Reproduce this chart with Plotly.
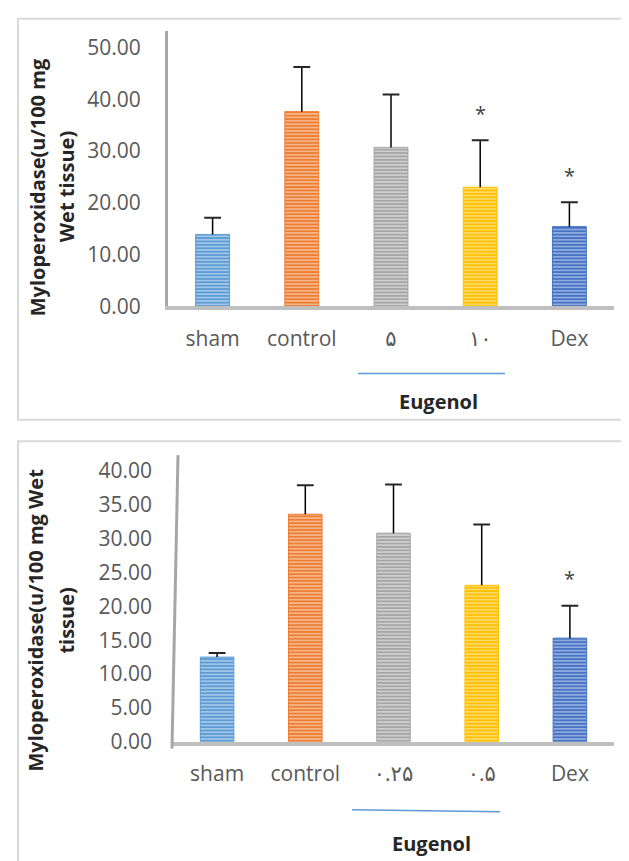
import plotly.graph_objects as go

# ---------------- data ----------------
top_categories = ["sham", "control", "۵", "۱۰", "Dex"]
top_means = [13.9, 37.6, 30.7, 23.0, 15.4]
top_sds = [3.2, 8.6, 10.2, 9.1, 4.7]
top_sig = ["", "", "", "*", "*"]

bottom_categories = ["sham", "control", "۰.۲۵", "۰.۵", "Dex"]
bottom_means = [12.5, 33.6, 30.8, 23.1, 15.3]
bottom_sds = [0.6, 4.3, 7.2, 9.0, 4.8]
bottom_sig = ["", "", "", "", "*"]

top_yticks = [0, 10, 20, 30, 40, 50]
bottom_yticks = [0, 5, 10, 15, 20, 25, 30, 35, 40]

bar_colors = ["#5B9BD5", "#ED7D31", "#A5A5A5", "#FFC000", "#4472C4"]
stripe_colors = ["#A9CBEA", "#F6BC94", "#D3D3D3", "#FFDB70", "#9AB2DF"]

y_title_top = ["Myloperoxidase(u/100 mg", "Wet tissue)"]
y_title_bottom = ["Myloperoxidase(u/100 mg Wet", "tissue)"]
group_label = "Eugenol"

# ---------------- layout helpers ----------------
W, H = 629, 861
def px(x):
    return x / W
def py(y):
    return 1 - y / H

TICK_FONT = dict(family="Open Sans, DejaVu Sans, sans-serif", size=21, color="#595959")
BOLD_FONT = "Open Sans, DejaVu Sans, sans-serif"

fig = go.Figure()

def add_chart(xa, ya, cats, means, sds, sig):
    for c, m, col, scol in zip(cats, means, bar_colors, stripe_colors):
        fig.add_trace(go.Bar(
            x=[c], y=[m], xaxis=xa, yaxis=ya, width=0.38,
            marker=dict(
                color=col,
                line=dict(color=col, width=1),
                pattern=dict(shape="-", fillmode="replace", bgcolor=col,
                             fgcolor=scol, fgopacity=1, size=3.4, solidity=0.45),
            ),
            showlegend=False, hoverinfo="skip",
        ))
    tops = [m + s for m, s in zip(means, sds)]
    fig.add_trace(go.Scatter(
        x=cats, y=tops, xaxis=xa, yaxis=ya, mode="markers",
        marker=dict(symbol="line-ew", size=12, line=dict(width=2, color="#262626")),
        error_y=dict(type="data", symmetric=False, array=[0] * len(cats),
                     arrayminus=sds, width=0, thickness=1.5, color="#000000"),
        showlegend=False, hoverinfo="skip",
    ))
    for c, t, s in zip(cats, tops, sig):
        if s:
            fig.add_annotation(x=c, y=t, xref=xa, yref=ya, text=s, showarrow=False,
                               yanchor="middle", yshift=27,
                               font=dict(family=BOLD_FONT, size=20, color="#404040"))

add_chart("x", "y", top_categories, top_means, top_sds, top_sig)
add_chart("x2", "y2", bottom_categories, bottom_means, bottom_sds, bottom_sig)

top_zero, top_fifty, top_axis_top = 303, 40, 23
top_range = top_yticks[-1] * (top_zero - top_axis_top) / (top_zero - top_fifty)
bot_zero, bot_forty, bot_axis_top = 745, 470, 454
bot_range = bottom_yticks[-1] * (bot_zero - bot_axis_top) / (bot_zero - bot_forty)

common_x = dict(type="category", range=[-0.5, 4.5], showgrid=False, zeroline=False,
                showline=True, linecolor="#BFBFBF", linewidth=4, ticks="",
                tickfont=TICK_FONT, ticklabelstandoff=10, fixedrange=True)
common_y = dict(showgrid=False, zeroline=False, ticks="", tickformat=".2f",
                tickfont=TICK_FONT, ticklabelstandoff=20, fixedrange=True)

fig.update_layout(
    width=W, height=H, margin=dict(l=0, r=0, t=0, b=0),
    paper_bgcolor="white", plot_bgcolor="white", barmode="overlay",
    xaxis=dict(domain=[px(160), px(606)], anchor="y", categoryarray=top_categories,
               categoryorder="array", **common_x),
    yaxis=dict(domain=[py(top_zero), py(top_axis_top)], anchor="x",
               range=[0, top_range], tickvals=top_yticks,
               showline=True, linecolor="#A6A6A6", linewidth=3, **common_y),
    xaxis2=dict(domain=[px(165), px(606)], anchor="y2", categoryarray=bottom_categories,
                categoryorder="array", **common_x),
    yaxis2=dict(domain=[py(bot_zero), py(bot_axis_top)], anchor="x2",
                range=[0, bot_range], tickvals=bottom_yticks,
                showline=False, **common_y),
)

shapes = [
    # outer chart boxes
    dict(type="rect", xref="paper", yref="paper", x0=px(10), x1=px(700), y0=py(11), y1=py(418),
         line=dict(color="#D9D9D9", width=2), fillcolor="rgba(0,0,0,0)"),
    dict(type="rect", xref="paper", yref="paper", x0=px(10), x1=px(700), y0=py(440), y1=py(900),
         line=dict(color="#D9D9D9", width=2), fillcolor="rgba(0,0,0,0)"),
    # slanted y-axis line of the lower chart
    dict(type="line", xref="paper", yref="paper", x0=px(170), y0=py(454), x1=px(164), y1=py(752),
         line=dict(color="#A6A6A6", width=3)),
    # Eugenol group lines
    dict(type="line", xref="paper", yref="paper", x0=px(350), y0=py(371), x1=px(497), y1=py(371),
         line=dict(color="#5B9BD5", width=1.5)),
    dict(type="line", xref="paper", yref="paper", x0=px(344), y0=py(814), x1=px(492), y1=py(816),
         line=dict(color="#5B9BD5", width=1.5)),
]
fig.update_layout(shapes=shapes)

title_font = dict(family=BOLD_FONT, size=20, color="#262626", weight="bold")
for text, x, y in [(y_title_top[0], 29, 182), (y_title_top[1], 58, 182),
                   (y_title_bottom[0], 28, 622), (y_title_bottom[1], 59, 622)]:
    fig.add_annotation(text=text, x=px(x), y=py(y), xref="paper", yref="paper",
                       textangle=-90, showarrow=False, xanchor="center", yanchor="middle",
                       font=title_font)
for x, y in [(430, 400), (423, 848)]:
    fig.add_annotation(text=group_label, x=px(x), y=py(y), xref="paper", yref="paper",
                       showarrow=False, xanchor="center", yanchor="middle",
                       font=dict(family=BOLD_FONT, size=20, color="#262626", weight="bold"))

fig.write_html("out.html")
